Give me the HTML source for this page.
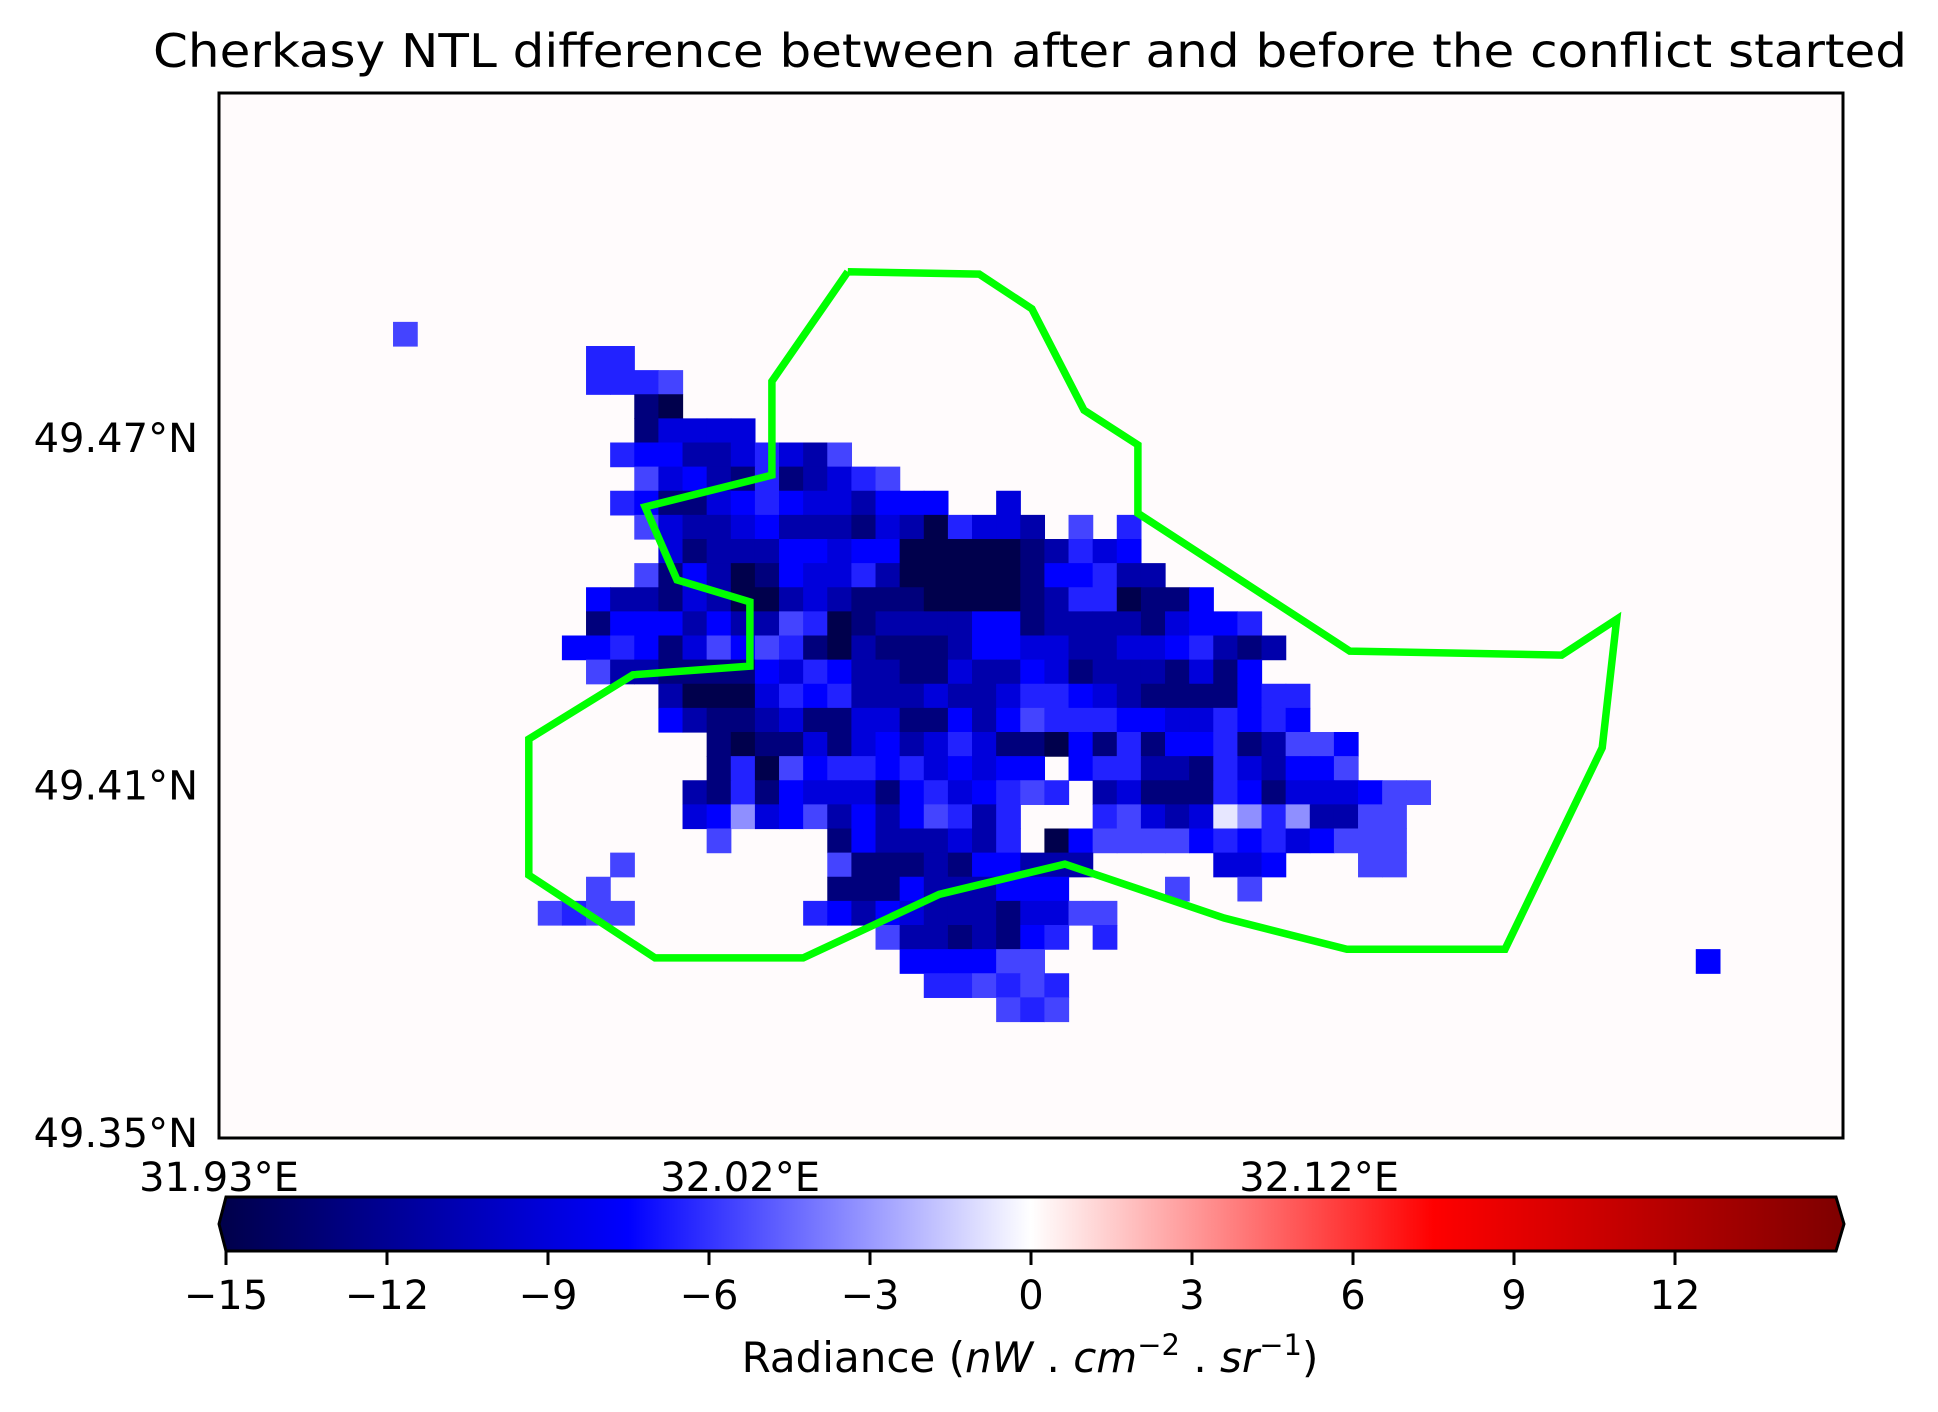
<!DOCTYPE html>
<html>
<head>
<meta charset="utf-8">
<style>
  html, body { margin: 0; padding: 0; background: #ffffff; }
  svg { display: block; }
  text { font-family: "DejaVu Sans", "Liberation Sans", sans-serif; fill: #000; }
</style>
</head>
<body>
<svg id="chart" width="1938" height="1412" viewBox="0 0 1938 1412" xmlns="http://www.w3.org/2000/svg">
  <text x="1030" y="67" font-size="46" text-anchor="middle" textLength="1754" lengthAdjust="spacingAndGlyphs">Cherkasy NTL difference between after and before the conflict started</text>
  <rect x="219" y="93" width="1624" height="1045" fill="#fffbfc"/>
  <g id="cells"></g>
  <polyline id="boundary" fill="none" stroke="#00ff00" stroke-width="7.5" stroke-linejoin="miter"/>
  <rect x="219" y="93" width="1624" height="1045" fill="none" stroke="#000" stroke-width="3"/>
  <g id="ylabels"></g>
  <g id="xlabels"></g>
  <defs>
    <linearGradient id="seismic" x1="226" y1="0" x2="1836" y2="0" gradientUnits="userSpaceOnUse">
      <stop offset="0" stop-color="#00004c"/>
      <stop offset="0.25" stop-color="#0000ff"/>
      <stop offset="0.5" stop-color="#ffffff"/>
      <stop offset="0.75" stop-color="#ff0000"/>
      <stop offset="1" stop-color="#800000"/>
    </linearGradient>
  </defs>
  <polygon points="226,1197 1836,1197 1844,1224 1836,1251 226,1251 219,1224" fill="url(#seismic)" stroke="#000" stroke-width="3"/>
  <g id="cbticks"></g>
  <text x="1030" y="1372" font-size="42" text-anchor="middle">Radiance (<tspan font-style="italic">nW</tspan> . <tspan font-style="italic">cm</tspan><tspan font-size="29" dy="-17">−2</tspan><tspan dy="17"> . </tspan><tspan font-style="italic">sr</tspan><tspan font-size="29" dy="-17">−1</tspan><tspan dy="17">)</tspan></text>
</svg>
<script>
// ---- data ----
const codeLetters = ['a','b','c','d','e','f','g','h','i'];
const codeValues = [-15, -13, -11, -9, -7.5, -6.5, -5.5, -3.3, -0.7];
const rowIndex = [-1,0,1,2,3,4,5,6,7,8,9,10,11,12,13,14,15,16,17,18,19,20,21,22,23,24,25,26,27];
const rowCells = [
  "-8g",
  "0f 1f",
  "0f 1f 2f 3g",
  "2b 3a",
  "2b 3d 4d 5d 6d",
  "1f 2e 3e 4c 5c 6d 7f 8d 9c 10g",
  "2g 3d 4e 5c 6b 7f 8b 9c 10d 11f 12g",
  "1f 2e 3b 4b 5d 6e 7f 8e 9d 10d 11c 12e 13e 14e 17d",
  "2g 3d 4c 5c 6d 7e 8c 9c 10c 11b 12d 13c 14a 15f 16d 17d 18c 20g 22f",
  "3d 4b 5c 6c 7c 8e 9e 10d 11e 12e 13a 14a 15a 16a 17a 18b 19c 20f 21d 22e",
  "2g 3b 4e 5c 6a 7b 8e 9d 10d 11f 12c 13a 14a 15a 16a 17a 18b 19e 20e 21f 22c 23c",
  "0e 1c 2c 3b 4d 5c 6a 7a 8c 9d 10c 11b 12b 13b 14a 15a 16a 17a 18b 19c 20f 21f 22a 23b 24b 25e",
  "0b 1e 2e 3e 4c 5e 6c 7c 8g 9f 10a 11b 12c 13c 14c 15c 16e 17e 18b 19c 20c 21c 22c 23b 24d 25e 26e 27f",
  "-1e 0e 1f 2e 3b 4d 5g 6e 7g 8f 9b 10a 11c 12b 13b 14b 15c 16e 17e 18d 19d 20c 21c 22d 23d 24e 25f 26c 27b 28c",
  "0g 1c 2c 3b 4b 5b 6b 7e 8d 9f 10e 11c 12c 13b 14b 15d 16c 17c 18e 19d 20b 21c 22c 23c 24b 25d 26b 27e",
  "3c 4a 5a 6a 7d 8f 9e 10f 11c 12c 13c 14d 15c 16c 17d 18f 19f 20e 21d 22c 23b 24b 25b 26b 27e 28f 29f",
  "3e 4c 5b 6b 7c 8d 9b 10b 11d 12d 13b 14b 15e 16c 17e 18g 19f 20f 21f 22e 23e 24d 25d 26f 27e 28f 29e",
  "5b 6a 7b 8b 9d 10b 11d 12e 13c 14d 15f 16d 17b 18b 19a 20e 21b 22f 23b 24e 25e 26f 27b 28c 29g 30g 31e",
  "5b 6f 7a 8g 9e 10f 11f 12e 13f 14d 15e 16d 17e 18e 20e 21f 22f 23c 24c 25b 26f 27d 28c 29e 30e 31g",
  "4c 5b 6f 7b 8e 9d 10d 11d 12b 13e 14f 15d 16e 17f 18g 19f 21c 22d 23b 24b 25b 26f 27e 28b 29d 30d 31d 32e 33g 34g",
  "4d 5e 6h 7d 8e 9g 10c 11e 12c 13e 14g 15f 16c 17f 21f 22g 23d 24c 25d 26i 27h 28f 29h 30c 31c 32g 33g",
  "5g 10b 11e 12c 13c 14c 15d 16c 17f 19a 20e 21g 22g 23g 24g 25e 26f 27e 28f 29d 30e 31g 32g 33g",
  "1g 10g 11b 12b 13b 14c 15b 16e 17e 18c 19c 20c 26d 27d 28e 32g 33g",
  "0g 10b 11b 12b 13e 14c 15c 16c 17e 18e 19e 24g 27g",
  "-2g -1f 0g 1g 9f 10e 11c 12e 13d 14c 15c 16c 17b 18d 19d 20g 21g",
  "12g 13c 14c 15b 16c 17b 18e 19f 21f",
  "13e 14e 15e 16e 17g 18g 46e",
  "14f 15f 16g 17f 18g 19f",
  "17g 18f 19g"
];
const gridLon0 = 31.99339;   // west edge of grid column 0
const gridLat0 = 49.48589;   // north edge of grid row 0
const cellDeg = 1 / 240;     // 15 arc-seconds
const boundaryLon = [32.0386,32.0613,32.0704,32.0794,32.0887,32.0887,32.1253,32.1619,32.1714,32.1689,32.1521,32.1248,32.1036,32.0761,32.0544,32.0309,32.0053,31.9835,31.9835,32.0015,32.0217,32.0217,32.0091,32.0036,32.0255,32.0255,32.0386];
const boundaryLat = [49.4987,49.4983,49.4923,49.4748,49.4688,49.4570,49.4332,49.4325,49.4387,49.4165,49.3817,49.3817,49.3871,49.3964,49.3912,49.3802,49.3802,49.3945,49.4180,49.4291,49.4306,49.4417,49.4455,49.4581,49.4636,49.4798,49.4987];
const latTicks = [49.47, 49.41, 49.35];
const latTickLabels = ["49.47°N", "49.41°N", "49.35°N"];
const lonTicks = [31.93, 32.02, 32.12];
const lonTickLabels = ["31.93°E", "32.02°E", "32.12°E"];
const cbTicks = [-15, -12, -9, -6, -3, 0, 3, 6, 9, 12];
const cbTickLabels = ["−15", "−12", "−9", "−6", "−3", "0", "3", "6", "9", "12"];

// ---- axes ----
const PXDEG = 5790;
function xOf(lon) { return 219 + (lon - 31.93) * PXDEG; }
function yOf(lat) { return 438 + (49.47 - lat) * PXDEG; }
function cbX(v) { return 226 + (v + 15) / 30 * 1610; }
function seismic(v) {
  let t = Math.max(0, Math.min(1, (v + 15) / 30));
  const stops = [[0,[0,0,76]],[0.25,[0,0,255]],[0.5,[255,255,255]],[0.75,[255,0,0]],[1,[128,0,0]]];
  for (let i = 0; i < stops.length - 1; i++) {
    const [t0, c0] = stops[i], [t1, c1] = stops[i + 1];
    if (t <= t1) {
      const f = (t - t0) / (t1 - t0);
      return 'rgb(' + c0.map((c, k) => Math.round(c + (c1[k] - c) * f)).join(',') + ')';
    }
  }
  return 'rgb(128,0,0)';
}
const NS = 'http://www.w3.org/2000/svg';

// ---- raster cells ----
const cellsG = document.getElementById('cells');
rowCells.forEach((rowStr, ri) => {
  const row = rowIndex[ri];
  rowStr.split(' ').forEach(tok => {
    const m = tok.match(/^(-?\d+)([a-z])$/);
    if (!m) return;
    const col = parseInt(m[1], 10);
    const val = codeValues[codeLetters.indexOf(m[2])];
    const lonW = gridLon0 + col * cellDeg, lonE = lonW + cellDeg;
    const latN = gridLat0 - row * cellDeg, latS = latN - cellDeg;
    const r = document.createElementNS(NS, 'rect');
    r.setAttribute('x', xOf(lonW).toFixed(2));
    r.setAttribute('y', yOf(latN).toFixed(2));
    r.setAttribute('width', (xOf(lonE) - xOf(lonW) + 0.6).toFixed(2));
    r.setAttribute('height', (yOf(latS) - yOf(latN) + 0.6).toFixed(2));
    r.setAttribute('fill', seismic(val));
    
    
    cellsG.appendChild(r);
  });
});

// ---- boundary ----
document.getElementById('boundary').setAttribute('points',
  boundaryLon.map((lon, i) => xOf(lon).toFixed(1) + ',' + yOf(boundaryLat[i]).toFixed(1)).join(' '));

// ---- lat / lon labels ----
const yl = document.getElementById('ylabels');
latTicks.forEach((lat, i) => {
  const t = document.createElementNS(NS, 'text');
  t.setAttribute('x', 198);
  t.setAttribute('y', (yOf(lat) + 14).toFixed(1));
  t.setAttribute('font-size', '40');
  t.setAttribute('text-anchor', 'end');
  t.textContent = latTickLabels[i];
  
  
  yl.appendChild(t);
});
const xl = document.getElementById('xlabels');
lonTicks.forEach((lon, i) => {
  const t = document.createElementNS(NS, 'text');
  t.setAttribute('x', xOf(lon).toFixed(1));
  t.setAttribute('y', 1191);
  t.setAttribute('font-size', '40');
  t.setAttribute('text-anchor', 'middle');
  t.textContent = lonTickLabels[i];
  
  
  xl.appendChild(t);
});

// ---- colorbar ticks ----
const cbG = document.getElementById('cbticks');
cbTicks.forEach((v, i) => {
  const x = cbX(v);
  const l = document.createElementNS(NS, 'line');
  l.setAttribute('x1', x); l.setAttribute('x2', x);
  l.setAttribute('y1', 1251); l.setAttribute('y2', 1265);
  l.setAttribute('stroke', '#000'); l.setAttribute('stroke-width', '3');
  
  
  cbG.appendChild(l);
  const t = document.createElementNS(NS, 'text');
  t.setAttribute('x', x);
  t.setAttribute('y', 1309);
  t.setAttribute('font-size', '40');
  t.setAttribute('text-anchor', 'middle');
  t.textContent = cbTickLabels[i];
  
  
  cbG.appendChild(t);
});
</script>
</body>
</html>
